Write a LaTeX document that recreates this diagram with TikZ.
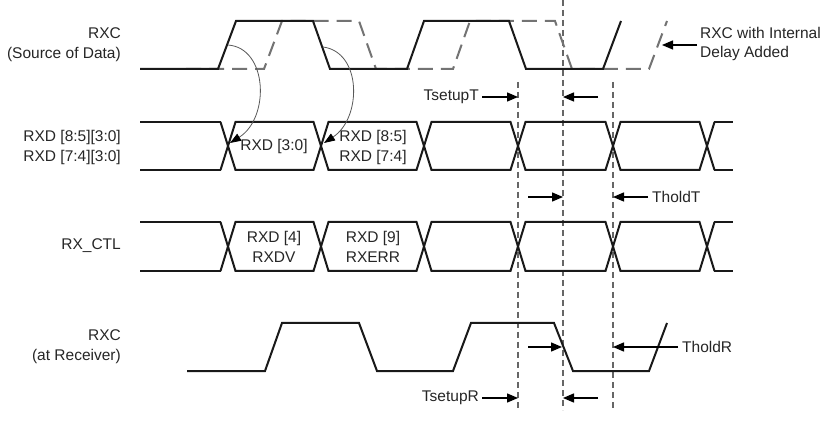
\documentclass[tikz,border=0pt]{standalone}
\usepackage{fontspec}
\setmainfont{Liberation Sans}
\usetikzlibrary{arrows.meta}
\begin{document}
\begin{tikzpicture}[x=1pt,y=-1pt,
  sig/.style={line width=2pt, line join=miter, black!90},
  stub/.style={line width=2.8pt, black!90},
  dclk/.style={line width=2pt, black!55, dash pattern=on 15pt off 8pt},
  guide/.style={line width=1.3pt, black!60, dash pattern=on 6pt off 4pt},
  arr/.style={line width=1.3pt, black, -{Triangle[length=11pt,width=9pt]}},
  curv/.style={line width=0.8pt, black!65, -{Triangle[length=11pt,width=8pt,fill=black,color=black]}},
  lbl/.style={font=\fontsize{15.5}{20}\selectfont, text=black!85, inner sep=0pt}]
\fill[white] (0,0) rectangle (828,422);
\useasboundingbox (0,0) rectangle (828,422);

% guides
\draw[guide] (563,0) -- (563,410);
\draw[guide] (518,82) -- (518,410);
\draw[guide] (613,82) -- (613,410);

% top clocks
\draw[dclk] (186,69) -- (264,69) -- (282,21) -- (359,21) -- (376,69) -- (453,69) -- (470,21) -- (555,21) -- (572,69) -- (649,69) -- (667,21);
\draw[sig] (140,69) -- (218,69) -- (236,21) -- (313,21) -- (330,69) -- (407,69) -- (424,21) -- (509,21) -- (526,69) -- (603,69) -- (621,21);

% bottom clock
\draw[sig] (187,371) -- (265,371) -- (282,323) -- (359,323) -- (377,371) -- (453,371) -- (471,323) -- (554,323) -- (573,371) -- (649,371) -- (667,323);

% buses
\foreach \T/\M/\B in {122/146/170, 222/246.5/271} {
  \foreach \a/\b in {228/321, 321/424, 424/518, 518/613, 613/707} {
    \draw[sig] (\a,\M) -- (\a+7.5,\T) -- (\b-7.5,\T) -- (\b,\M) -- (\b-7.5,\B) -- (\a+7.5,\B) -- cycle;
  }
  \draw[sig] (220.5,\T) -- (228,\M) -- (220.5,\B);
  \draw[stub] (140,\T) -- (221,\T);
  \draw[stub] (140,\B) -- (221,\B);
  \draw[sig] (714.5,\T) -- (707,\M) -- (714.5,\B);
  \draw[stub] (714,\T) -- (733,\T);
  \draw[stub] (714,\B) -- (733,\B);
}

% curved arrows
\draw[curv] (228,45) .. controls (268,48) and (270,118) .. (230,143);
\draw[curv] (323,47) .. controls (362,52) and (362,118) .. (324,143);

% left labels
\node[lbl, align=right, anchor=east] (l1) at (121,45) {RXC\\(Source of Data)};
\node[lbl, align=right, anchor=east] (l2) at (121,147) {RXD [8:5][3:0]\\RXD [7:4][3:0]};
\node[lbl, anchor=east] (l3) at (121,246) {RX\_CTL};
\node[lbl, align=right, anchor=east] (l4) at (121,347) {RXC\\(at Receiver)};

% box texts
\node[lbl] (b1) at (274,146) {RXD [3:0]};
\node[lbl, align=center] (b2) at (373,147) {RXD [8:5]\\RXD [7:4]};
\node[lbl, align=center] (b3) at (274,247) {RXD [4]\\RXDV};
\node[lbl, align=center] (b4) at (373,247) {RXD [9]\\RXERR};

% delay label
\node[lbl, align=left, anchor=west, font=\fontsize{15.5}{18.5}\selectfont] (dl) at (700,44) {RXC with Internal\\Delay Added};
\coordinate (dlh) at (662,45);
\draw[arr] (697,45) -- (dlh);

% timing labels and arrows
\node[lbl, anchor=east] (tsT) at (479,97) {TsetupT};
\coordinate (g1a) at (518,97);
\coordinate (g2a) at (563,97);
\draw[arr] (482,97) -- (g1a);
\draw[arr] (598,97) -- (g2a);

\node[lbl, anchor=west] (thT) at (652,197) {TholdT};
\coordinate (g2b) at (563,197);
\coordinate (g3b) at (613,197);
\draw[arr] (528,197) -- (g2b);
\draw[arr] (648,197) -- (g3b);

\node[lbl, anchor=west] (thR) at (682,347) {TholdR};
\coordinate (g2c) at (562,347);
\coordinate (g3c) at (613,347);
\draw[arr] (528,347) -- (g2c);
\draw[arr] (678,347) -- (g3c);

\node[lbl, anchor=east] (tsR) at (479,398) {TsetupR};
\coordinate (g1d) at (518,398);
\coordinate (g2d) at (563,398);
\draw[arr] (482,398) -- (g1d);
\draw[arr] (598,398) -- (g2d);
\end{tikzpicture}
\end{document}
